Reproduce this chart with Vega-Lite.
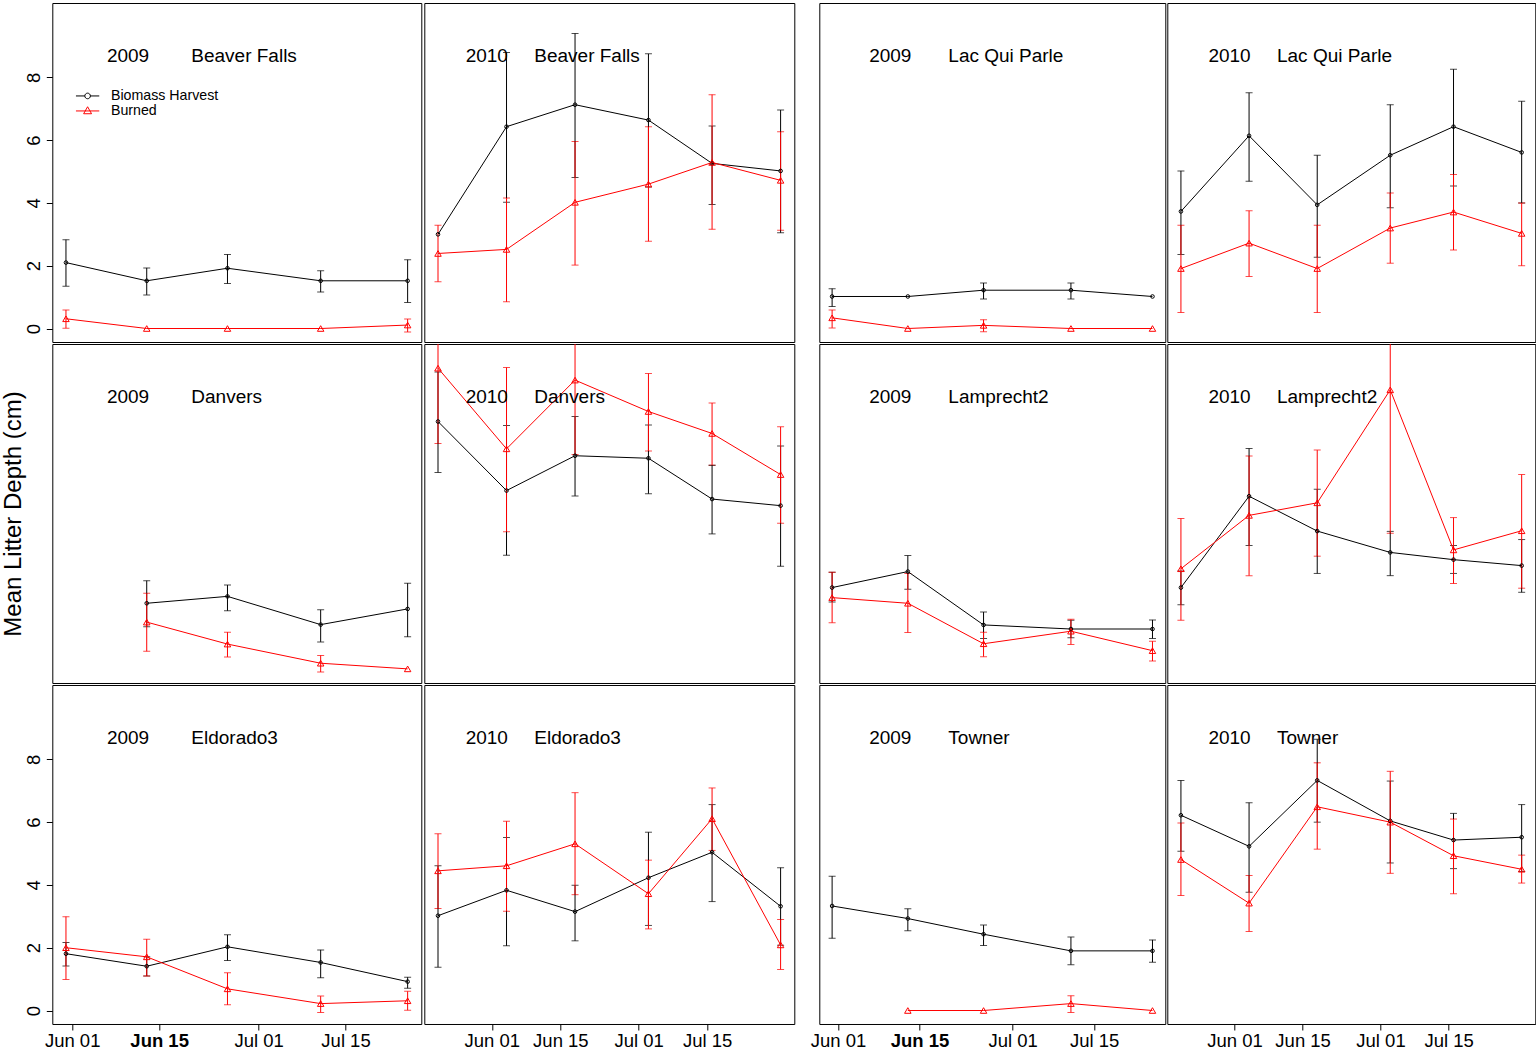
{
"$schema": "https://vega.github.io/schema/vega-lite/v6.json",
"background": "white",
"padding": {"left": 0.3, "top": 2, "right": 0, "bottom": 0},
"config": {
  "view": {"stroke": "#000000", "strokeWidth": 1},
  "font": "Liberation Sans",
  "axis": {"labelFont": "Liberation Sans", "titleFont": "Liberation Sans", "labelColor": "#000000", "titleColor": "#000000", "tickColor": "#000000", "tickWidth": 1},
  "title": {"font": "Liberation Sans", "fontSize": 19, "fontWeight": "normal", "color": "#000000", "anchor": "start", "frame": "group", "orient": "top", "baseline": "alphabetic", "offset": -62.7},
  "legend": {"labelFont": "Liberation Sans"}
},
"data": {"values": [
{"site":"Beaver Falls","year":2009,"trt":"Biomass Harvest","date":"2009-05-31","mean":2.10,"lo":1.35,"hi":2.83},
{"site":"Beaver Falls","year":2009,"trt":"Biomass Harvest","date":"2009-06-13","mean":1.52,"lo":1.07,"hi":1.93},
{"site":"Beaver Falls","year":2009,"trt":"Biomass Harvest","date":"2009-06-26","mean":1.92,"lo":1.43,"hi":2.36},
{"site":"Beaver Falls","year":2009,"trt":"Biomass Harvest","date":"2009-07-11","mean":1.52,"lo":1.16,"hi":1.84},
{"site":"Beaver Falls","year":2009,"trt":"Biomass Harvest","date":"2009-07-25","mean":1.52,"lo":0.83,"hi":2.19},
{"site":"Beaver Falls","year":2010,"trt":"Biomass Harvest","date":"2010-05-21","mean":3.00,"lo":null,"hi":null},
{"site":"Beaver Falls","year":2010,"trt":"Biomass Harvest","date":"2010-06-04","mean":6.43,"lo":4.02,"hi":8.79},
{"site":"Beaver Falls","year":2010,"trt":"Biomass Harvest","date":"2010-06-18","mean":7.13,"lo":4.81,"hi":9.40},
{"site":"Beaver Falls","year":2010,"trt":"Biomass Harvest","date":"2010-07-03","mean":6.64,"lo":4.51,"hi":8.75},
{"site":"Beaver Falls","year":2010,"trt":"Biomass Harvest","date":"2010-07-16","mean":5.26,"lo":3.95,"hi":6.45},
{"site":"Beaver Falls","year":2010,"trt":"Biomass Harvest","date":"2010-07-30","mean":5.02,"lo":3.05,"hi":6.96},
{"site":"Lac Qui Parle","year":2009,"trt":"Biomass Harvest","date":"2009-05-31","mean":1.02,"lo":0.70,"hi":1.27},
{"site":"Lac Qui Parle","year":2009,"trt":"Biomass Harvest","date":"2009-06-13","mean":1.02,"lo":null,"hi":null},
{"site":"Lac Qui Parle","year":2009,"trt":"Biomass Harvest","date":"2009-06-26","mean":1.22,"lo":0.94,"hi":1.45},
{"site":"Lac Qui Parle","year":2009,"trt":"Biomass Harvest","date":"2009-07-11","mean":1.22,"lo":0.94,"hi":1.45},
{"site":"Lac Qui Parle","year":2009,"trt":"Biomass Harvest","date":"2009-07-25","mean":1.02,"lo":null,"hi":null},
{"site":"Lac Qui Parle","year":2010,"trt":"Biomass Harvest","date":"2010-05-21","mean":3.73,"lo":2.36,"hi":5.02},
{"site":"Lac Qui Parle","year":2010,"trt":"Biomass Harvest","date":"2010-06-04","mean":6.14,"lo":4.69,"hi":7.51},
{"site":"Lac Qui Parle","year":2010,"trt":"Biomass Harvest","date":"2010-06-18","mean":3.94,"lo":2.27,"hi":5.52},
{"site":"Lac Qui Parle","year":2010,"trt":"Biomass Harvest","date":"2010-07-03","mean":5.52,"lo":3.85,"hi":7.13},
{"site":"Lac Qui Parle","year":2010,"trt":"Biomass Harvest","date":"2010-07-16","mean":6.43,"lo":4.54,"hi":8.26},
{"site":"Lac Qui Parle","year":2010,"trt":"Biomass Harvest","date":"2010-07-30","mean":5.61,"lo":4.00,"hi":7.24},
{"site":"Danvers","year":2009,"trt":"Biomass Harvest","date":"2009-06-13","mean":2.11,"lo":1.36,"hi":2.83},
{"site":"Danvers","year":2009,"trt":"Biomass Harvest","date":"2009-06-26","mean":2.33,"lo":1.87,"hi":2.69},
{"site":"Danvers","year":2009,"trt":"Biomass Harvest","date":"2009-07-11","mean":1.43,"lo":0.88,"hi":1.90},
{"site":"Danvers","year":2009,"trt":"Biomass Harvest","date":"2009-07-25","mean":1.93,"lo":1.04,"hi":2.75},
{"site":"Danvers","year":2010,"trt":"Biomass Harvest","date":"2010-05-21","mean":7.90,"lo":6.28,"hi":9.48},
{"site":"Danvers","year":2010,"trt":"Biomass Harvest","date":"2010-06-04","mean":5.70,"lo":3.64,"hi":7.77},
{"site":"Danvers","year":2010,"trt":"Biomass Harvest","date":"2010-06-18","mean":6.81,"lo":5.53,"hi":8.06},
{"site":"Danvers","year":2010,"trt":"Biomass Harvest","date":"2010-07-03","mean":6.73,"lo":5.60,"hi":7.79},
{"site":"Danvers","year":2010,"trt":"Biomass Harvest","date":"2010-07-16","mean":5.43,"lo":4.32,"hi":6.51},
{"site":"Danvers","year":2010,"trt":"Biomass Harvest","date":"2010-07-30","mean":5.22,"lo":3.29,"hi":7.12},
{"site":"Lamprecht2","year":2009,"trt":"Biomass Harvest","date":"2009-05-31","mean":2.61,"lo":2.15,"hi":3.10},
{"site":"Lamprecht2","year":2009,"trt":"Biomass Harvest","date":"2009-06-13","mean":3.12,"lo":2.56,"hi":3.63},
{"site":"Lamprecht2","year":2009,"trt":"Biomass Harvest","date":"2009-06-26","mean":1.42,"lo":0.99,"hi":1.83},
{"site":"Lamprecht2","year":2009,"trt":"Biomass Harvest","date":"2009-07-11","mean":1.29,"lo":1.01,"hi":1.57},
{"site":"Lamprecht2","year":2009,"trt":"Biomass Harvest","date":"2009-07-25","mean":1.29,"lo":0.99,"hi":1.58},
{"site":"Lamprecht2","year":2010,"trt":"Biomass Harvest","date":"2010-05-21","mean":2.61,"lo":2.06,"hi":3.14},
{"site":"Lamprecht2","year":2010,"trt":"Biomass Harvest","date":"2010-06-04","mean":5.52,"lo":3.95,"hi":7.04},
{"site":"Lamprecht2","year":2010,"trt":"Biomass Harvest","date":"2010-06-18","mean":4.41,"lo":3.06,"hi":5.74},
{"site":"Lamprecht2","year":2010,"trt":"Biomass Harvest","date":"2010-07-03","mean":3.73,"lo":2.99,"hi":4.40},
{"site":"Lamprecht2","year":2010,"trt":"Biomass Harvest","date":"2010-07-16","mean":3.50,"lo":3.06,"hi":3.95},
{"site":"Lamprecht2","year":2010,"trt":"Biomass Harvest","date":"2010-07-30","mean":3.31,"lo":2.46,"hi":4.14},
{"site":"Eldorado3","year":2009,"trt":"Biomass Harvest","date":"2009-05-31","mean":1.81,"lo":1.42,"hi":2.17},
{"site":"Eldorado3","year":2009,"trt":"Biomass Harvest","date":"2009-06-13","mean":1.41,"lo":1.10,"hi":1.71},
{"site":"Eldorado3","year":2009,"trt":"Biomass Harvest","date":"2009-06-26","mean":2.03,"lo":1.59,"hi":2.41},
{"site":"Eldorado3","year":2009,"trt":"Biomass Harvest","date":"2009-07-11","mean":1.53,"lo":1.04,"hi":1.93},
{"site":"Eldorado3","year":2009,"trt":"Biomass Harvest","date":"2009-07-25","mean":0.92,"lo":0.71,"hi":1.06},
{"site":"Eldorado3","year":2010,"trt":"Biomass Harvest","date":"2010-05-21","mean":3.02,"lo":1.38,"hi":4.61},
{"site":"Eldorado3","year":2010,"trt":"Biomass Harvest","date":"2010-06-04","mean":3.83,"lo":2.06,"hi":5.51},
{"site":"Eldorado3","year":2010,"trt":"Biomass Harvest","date":"2010-06-18","mean":3.15,"lo":2.22,"hi":3.99},
{"site":"Eldorado3","year":2010,"trt":"Biomass Harvest","date":"2010-07-03","mean":4.23,"lo":2.71,"hi":5.68},
{"site":"Eldorado3","year":2010,"trt":"Biomass Harvest","date":"2010-07-16","mean":5.04,"lo":3.47,"hi":6.56},
{"site":"Eldorado3","year":2010,"trt":"Biomass Harvest","date":"2010-07-30","mean":3.32,"lo":2.08,"hi":4.55},
{"site":"Towner","year":2009,"trt":"Biomass Harvest","date":"2009-05-31","mean":3.33,"lo":2.30,"hi":4.28},
{"site":"Towner","year":2009,"trt":"Biomass Harvest","date":"2009-06-13","mean":2.93,"lo":2.54,"hi":3.24},
{"site":"Towner","year":2009,"trt":"Biomass Harvest","date":"2009-06-26","mean":2.43,"lo":2.07,"hi":2.72},
{"site":"Towner","year":2009,"trt":"Biomass Harvest","date":"2009-07-11","mean":1.90,"lo":1.46,"hi":2.34},
{"site":"Towner","year":2009,"trt":"Biomass Harvest","date":"2009-07-25","mean":1.90,"lo":1.54,"hi":2.25},
{"site":"Towner","year":2010,"trt":"Biomass Harvest","date":"2010-05-21","mean":6.22,"lo":5.07,"hi":7.33},
{"site":"Towner","year":2010,"trt":"Biomass Harvest","date":"2010-06-04","mean":5.23,"lo":3.77,"hi":6.62},
{"site":"Towner","year":2010,"trt":"Biomass Harvest","date":"2010-06-18","mean":7.33,"lo":6.00,"hi":8.64},
{"site":"Towner","year":2010,"trt":"Biomass Harvest","date":"2010-07-03","mean":6.04,"lo":4.70,"hi":7.31},
{"site":"Towner","year":2010,"trt":"Biomass Harvest","date":"2010-07-16","mean":5.43,"lo":4.52,"hi":6.28},
{"site":"Towner","year":2010,"trt":"Biomass Harvest","date":"2010-07-30","mean":5.52,"lo":4.43,"hi":6.56},
{"site":"Beaver Falls","year":2009,"trt":"Burned","date":"2009-05-31","mean":0.31,"lo":0.01,"hi":0.59},
{"site":"Beaver Falls","year":2009,"trt":"Burned","date":"2009-06-13","mean":0.00,"lo":null,"hi":null},
{"site":"Beaver Falls","year":2009,"trt":"Burned","date":"2009-06-26","mean":0.00,"lo":null,"hi":null},
{"site":"Beaver Falls","year":2009,"trt":"Burned","date":"2009-07-11","mean":0.00,"lo":null,"hi":null},
{"site":"Beaver Falls","year":2009,"trt":"Burned","date":"2009-07-25","mean":0.11,"lo":-0.11,"hi":0.30},
{"site":"Beaver Falls","year":2010,"trt":"Burned","date":"2010-05-21","mean":2.39,"lo":1.49,"hi":3.29},
{"site":"Beaver Falls","year":2010,"trt":"Burned","date":"2010-06-04","mean":2.52,"lo":0.85,"hi":4.16},
{"site":"Beaver Falls","year":2010,"trt":"Burned","date":"2010-06-18","mean":4.02,"lo":2.02,"hi":5.96},
{"site":"Beaver Falls","year":2010,"trt":"Burned","date":"2010-07-03","mean":4.60,"lo":2.78,"hi":6.43},
{"site":"Beaver Falls","year":2010,"trt":"Burned","date":"2010-07-16","mean":5.29,"lo":3.16,"hi":7.45},
{"site":"Beaver Falls","year":2010,"trt":"Burned","date":"2010-07-30","mean":4.72,"lo":3.13,"hi":6.27},
{"site":"Lac Qui Parle","year":2009,"trt":"Burned","date":"2009-05-31","mean":0.34,"lo":0.02,"hi":0.59},
{"site":"Lac Qui Parle","year":2009,"trt":"Burned","date":"2009-06-13","mean":0.00,"lo":null,"hi":null},
{"site":"Lac Qui Parle","year":2009,"trt":"Burned","date":"2009-06-26","mean":0.10,"lo":-0.10,"hi":0.28},
{"site":"Lac Qui Parle","year":2009,"trt":"Burned","date":"2009-07-11","mean":0.00,"lo":null,"hi":null},
{"site":"Lac Qui Parle","year":2009,"trt":"Burned","date":"2009-07-25","mean":0.00,"lo":null,"hi":null},
{"site":"Lac Qui Parle","year":2010,"trt":"Burned","date":"2010-05-21","mean":1.91,"lo":0.51,"hi":3.29},
{"site":"Lac Qui Parle","year":2010,"trt":"Burned","date":"2010-06-04","mean":2.72,"lo":1.66,"hi":3.75},
{"site":"Lac Qui Parle","year":2010,"trt":"Burned","date":"2010-06-18","mean":1.91,"lo":0.51,"hi":3.29},
{"site":"Lac Qui Parle","year":2010,"trt":"Burned","date":"2010-07-03","mean":3.20,"lo":2.08,"hi":4.32},
{"site":"Lac Qui Parle","year":2010,"trt":"Burned","date":"2010-07-16","mean":3.71,"lo":2.50,"hi":4.91},
{"site":"Lac Qui Parle","year":2010,"trt":"Burned","date":"2010-07-30","mean":3.03,"lo":2.00,"hi":4.00},
{"site":"Danvers","year":2009,"trt":"Burned","date":"2009-06-13","mean":1.51,"lo":0.58,"hi":2.43},
{"site":"Danvers","year":2009,"trt":"Burned","date":"2009-06-26","mean":0.81,"lo":0.40,"hi":1.19},
{"site":"Danvers","year":2009,"trt":"Burned","date":"2009-07-11","mean":0.20,"lo":-0.08,"hi":0.45},
{"site":"Danvers","year":2009,"trt":"Burned","date":"2009-07-25","mean":0.02,"lo":null,"hi":null},
{"site":"Danvers","year":2010,"trt":"Burned","date":"2010-05-21","mean":9.60,"lo":7.20,"hi":12.0},
{"site":"Danvers","year":2010,"trt":"Burned","date":"2010-06-04","mean":7.03,"lo":4.39,"hi":9.62},
{"site":"Danvers","year":2010,"trt":"Burned","date":"2010-06-18","mean":9.22,"lo":6.85,"hi":11.6},
{"site":"Danvers","year":2010,"trt":"Burned","date":"2010-07-03","mean":8.22,"lo":6.96,"hi":9.43},
{"site":"Danvers","year":2010,"trt":"Burned","date":"2010-07-16","mean":7.52,"lo":6.51,"hi":8.49},
{"site":"Danvers","year":2010,"trt":"Burned","date":"2010-07-30","mean":6.21,"lo":4.66,"hi":7.73},
{"site":"Lamprecht2","year":2009,"trt":"Burned","date":"2009-05-31","mean":2.29,"lo":1.49,"hi":3.10},
{"site":"Lamprecht2","year":2009,"trt":"Burned","date":"2009-06-13","mean":2.11,"lo":1.18,"hi":3.06},
{"site":"Lamprecht2","year":2009,"trt":"Burned","date":"2009-06-26","mean":0.82,"lo":0.41,"hi":1.19},
{"site":"Lamprecht2","year":2009,"trt":"Burned","date":"2009-07-11","mean":1.22,"lo":0.80,"hi":1.60},
{"site":"Lamprecht2","year":2009,"trt":"Burned","date":"2009-07-25","mean":0.60,"lo":0.27,"hi":0.90},
{"site":"Lamprecht2","year":2010,"trt":"Burned","date":"2010-05-21","mean":3.21,"lo":1.57,"hi":4.81},
{"site":"Lamprecht2","year":2010,"trt":"Burned","date":"2010-06-04","mean":4.91,"lo":2.99,"hi":6.80},
{"site":"Lamprecht2","year":2010,"trt":"Burned","date":"2010-06-18","mean":5.31,"lo":3.61,"hi":6.99},
{"site":"Lamprecht2","year":2010,"trt":"Burned","date":"2010-07-03","mean":8.91,"lo":4.34,"hi":13.5},
{"site":"Lamprecht2","year":2010,"trt":"Burned","date":"2010-07-16","mean":3.81,"lo":2.74,"hi":4.84},
{"site":"Lamprecht2","year":2010,"trt":"Burned","date":"2010-07-30","mean":4.42,"lo":2.59,"hi":6.21},
{"site":"Eldorado3","year":2009,"trt":"Burned","date":"2009-05-31","mean":2.00,"lo":0.99,"hi":2.99},
{"site":"Eldorado3","year":2009,"trt":"Burned","date":"2009-06-13","mean":1.71,"lo":1.10,"hi":2.27},
{"site":"Eldorado3","year":2009,"trt":"Burned","date":"2009-06-26","mean":0.69,"lo":0.18,"hi":1.20},
{"site":"Eldorado3","year":2009,"trt":"Burned","date":"2009-07-11","mean":0.22,"lo":-0.06,"hi":0.46},
{"site":"Eldorado3","year":2009,"trt":"Burned","date":"2009-07-25","mean":0.31,"lo":0.01,"hi":0.61},
{"site":"Eldorado3","year":2010,"trt":"Burned","date":"2010-05-21","mean":4.45,"lo":3.25,"hi":5.63},
{"site":"Eldorado3","year":2010,"trt":"Burned","date":"2010-06-04","mean":4.61,"lo":3.16,"hi":6.03},
{"site":"Eldorado3","year":2010,"trt":"Burned","date":"2010-06-18","mean":5.31,"lo":3.69,"hi":6.94},
{"site":"Eldorado3","year":2010,"trt":"Burned","date":"2010-07-03","mean":3.72,"lo":2.60,"hi":4.79},
{"site":"Eldorado3","year":2010,"trt":"Burned","date":"2010-07-16","mean":6.11,"lo":5.10,"hi":7.09},
{"site":"Eldorado3","year":2010,"trt":"Burned","date":"2010-07-30","mean":2.09,"lo":1.31,"hi":2.90},
{"site":"Towner","year":2009,"trt":"Burned","date":"2009-06-13","mean":0.00,"lo":null,"hi":null},
{"site":"Towner","year":2009,"trt":"Burned","date":"2009-06-26","mean":0.00,"lo":null,"hi":null},
{"site":"Towner","year":2009,"trt":"Burned","date":"2009-07-11","mean":0.22,"lo":-0.06,"hi":0.47},
{"site":"Towner","year":2009,"trt":"Burned","date":"2009-07-25","mean":0.00,"lo":null,"hi":null},
{"site":"Towner","year":2010,"trt":"Burned","date":"2010-05-21","mean":4.81,"lo":3.66,"hi":5.97},
{"site":"Towner","year":2010,"trt":"Burned","date":"2010-06-04","mean":3.42,"lo":2.52,"hi":4.30},
{"site":"Towner","year":2010,"trt":"Burned","date":"2010-06-18","mean":6.49,"lo":5.14,"hi":7.89},
{"site":"Towner","year":2010,"trt":"Burned","date":"2010-07-03","mean":6.00,"lo":4.37,"hi":7.62},
{"site":"Towner","year":2010,"trt":"Burned","date":"2010-07-16","mean":4.93,"lo":3.72,"hi":6.10},
{"site":"Towner","year":2010,"trt":"Burned","date":"2010-07-30","mean":4.50,"lo":4.06,"hi":4.95}
]},
"spacing": 14,
"resolve": {"scale": {"x": "independent", "y": "independent", "color": "independent", "shape": "independent"}},
"hconcat": [
{
"columns": 2,
"bounds": "flush",
"spacing": {"row": 2, "column": 3},
"resolve": {"scale": {"x": "independent", "y": "independent", "color": "independent", "shape": "independent"}},
"concat": [
{"width": 369, "height": 339,
 "title": {"text": "2009\u00a0\u00a0\u00a0\u00a0\u00a0\u00a0\u00a0\u00a0Beaver Falls", "dx": 54.6},
 "transform": [{"filter": "datum.site === 'Beaver Falls' && datum.year === 2009"}],
 "resolve": {"scale": {"color": "independent", "shape": "independent"}},
 "encoding": {
  "x": {"field": "date", "type": "temporal", "scale": {"type": "utc", "domain": [{"year":2009,"month":5,"date":28,"hours":19,"minutes":12,"utc":true},{"year":2009,"month":7,"date":27,"hours":4,"minutes":48,"utc":true}]}, "axis": null},
  "color": {"field": "trt", "type": "nominal", "scale": {"domain": ["Biomass Harvest","Burned"], "range": ["#000000","#ff0000"]}, "legend": null}
 },
 "layer": [
  {"mark": {"type": "errorbar", "ticks": true, "size": 7, "thickness": 1, "clip": true},
   "encoding": {"y": {"field": "lo", "type": "quantitative", "scale": {"domain": [-0.43, 10.37], "nice": false, "zero": false},
      "axis": {"values": [0,2,4,6,8], "title": null, "grid": false, "domain": false, "tickSize": 6, "labelAngle": -90, "labelAlign": "center", "labelBaseline": "middle", "labelPadding": 13, "labelFontSize": 18.5}},
    "y2": {"field": "hi"}}},
  {"mark": {"type": "line", "strokeWidth": 1},
   "encoding": {"y": {"field": "mean", "type": "quantitative", "scale": {"domain": [-0.43, 10.37], "nice": false, "zero": false}}}},
  {"mark": {"type": "point", "filled": false, "strokeWidth": 1, "opacity": 1},
   "encoding": {"y": {"field": "mean", "type": "quantitative", "scale": {"domain": [-0.43, 10.37], "nice": false, "zero": false}},
    "shape": {"field": "trt", "type": "nominal", "scale": {"domain": ["Biomass Harvest","Burned"], "range": ["circle","triangle-up"]}, "legend": null},
    "size": {"condition": {"test": "datum.trt === 'Burned'", "value": 42}, "value": 13}}},
  {"mark": {"type": "point", "filled": false, "strokeWidth": 1, "opacity": 0, "size": 543},
   "encoding": {"y": {"field": "mean", "type": "quantitative", "scale": {"domain": [-0.43, 10.37], "nice": false, "zero": false}},
    "color": {"field": "trt", "type": "nominal", "scale": {"domain": ["Biomass Harvest","Burned"], "range": ["#000000","#ff0000"]},
      "legend": {"title": null, "orient": "none", "legendX": 22.8, "legendY": 85.6, "padding": 0, "rowPadding": 0, "clipHeight": 14.7, "symbolSize": 543, "symbolStrokeWidth": 1, "symbolOpacity": 1, "symbolFillColor": "transparent", "labelOffset": 10.9, "labelFontSize": 14.2, "labelColor": "#000000"}},
    "shape": {"field": "trt", "type": "nominal", "scale": {"domain": ["Biomass Harvest","Burned"], "range": ["M-1,0H-0.24M0.24,0H1M0.24,0A0.24,0.24,0,1,1,-0.24,0A0.24,0.24,0,1,1,0.24,0Z", "M-1,0H1M0,-0.36L0.34,0.24L-0.34,0.24Z"]},
      "legend": {"title": null, "orient": "none", "legendX": 22.8, "legendY": 85.6, "padding": 0, "rowPadding": 0, "clipHeight": 14.7, "symbolSize": 543, "symbolStrokeWidth": 1, "symbolOpacity": 1, "symbolFillColor": "transparent", "labelOffset": 10.9, "labelFontSize": 14.2, "labelColor": "#000000"}}}}
 ]},
{"width": 370, "height": 339,
 "title": {"text": "2010\u00a0\u00a0\u00a0\u00a0\u00a0Beaver Falls", "dx": 41.4},
 "transform": [{"filter": "datum.site === 'Beaver Falls' && datum.year === 2010"}],
 "encoding": {
  "x": {"field": "date", "type": "temporal", "scale": {"type": "utc", "domain": [{"year":2010,"month":5,"date":18,"hours":4,"minutes":48,"utc":true},{"year":2010,"month":8,"date":1,"hours":19,"minutes":12,"utc":true}]}, "axis": null},
  "color": {"field": "trt", "type": "nominal", "scale": {"domain": ["Biomass Harvest","Burned"], "range": ["#000000","#ff0000"]}, "legend": null}
 },
 "layer": [
  {"mark": {"type": "errorbar", "ticks": true, "size": 7, "thickness": 1, "clip": true},
   "encoding": {"y": {"field": "lo", "type": "quantitative", "scale": {"domain": [-0.43, 10.37], "nice": false, "zero": false}, "axis": null}, "y2": {"field": "hi"}}},
  {"mark": {"type": "line", "strokeWidth": 1},
   "encoding": {"y": {"field": "mean", "type": "quantitative", "scale": {"domain": [-0.43, 10.37], "nice": false, "zero": false}}}},
  {"mark": {"type": "point", "filled": false, "strokeWidth": 1, "opacity": 1},
   "encoding": {"y": {"field": "mean", "type": "quantitative", "scale": {"domain": [-0.43, 10.37], "nice": false, "zero": false}},
    "shape": {"field": "trt", "type": "nominal", "scale": {"domain": ["Biomass Harvest","Burned"], "range": ["circle","triangle-up"]}, "legend": null},
    "size": {"condition": {"test": "datum.trt === 'Burned'", "value": 42}, "value": 13}}}
 ]},
{"width": 369, "height": 339,
 "title": {"text": "2009\u00a0\u00a0\u00a0\u00a0\u00a0\u00a0\u00a0\u00a0Danvers", "dx": 54.6},
 "transform": [{"filter": "datum.site === 'Danvers' && datum.year === 2009"}],
 "encoding": {
  "x": {"field": "date", "type": "temporal", "scale": {"type": "utc", "domain": [{"year":2009,"month":5,"date":28,"hours":19,"minutes":12,"utc":true},{"year":2009,"month":7,"date":27,"hours":4,"minutes":48,"utc":true}]}, "axis": null},
  "color": {"field": "trt", "type": "nominal", "scale": {"domain": ["Biomass Harvest","Burned"], "range": ["#000000","#ff0000"]}, "legend": null}
 },
 "layer": [
  {"mark": {"type": "errorbar", "ticks": true, "size": 7, "thickness": 1, "clip": true},
   "encoding": {"y": {"field": "lo", "type": "quantitative", "scale": {"domain": [-0.43, 10.37], "nice": false, "zero": false},
      "axis": {"title": "Mean Litter Depth (cm)", "titleFontSize": 24, "titleFontWeight": "normal", "titlePadding": 27, "labels": false, "ticks": false, "domain": false, "grid": false}},
    "y2": {"field": "hi"}}},
  {"mark": {"type": "line", "strokeWidth": 1},
   "encoding": {"y": {"field": "mean", "type": "quantitative", "scale": {"domain": [-0.43, 10.37], "nice": false, "zero": false}}}},
  {"mark": {"type": "point", "filled": false, "strokeWidth": 1, "opacity": 1},
   "encoding": {"y": {"field": "mean", "type": "quantitative", "scale": {"domain": [-0.43, 10.37], "nice": false, "zero": false}},
    "shape": {"field": "trt", "type": "nominal", "scale": {"domain": ["Biomass Harvest","Burned"], "range": ["circle","triangle-up"]}, "legend": null},
    "size": {"condition": {"test": "datum.trt === 'Burned'", "value": 42}, "value": 13}}}
 ]},
{"width": 370, "height": 339,
 "title": {"text": "2010\u00a0\u00a0\u00a0\u00a0\u00a0Danvers", "dx": 41.4},
 "transform": [{"filter": "datum.site === 'Danvers' && datum.year === 2010"}],
 "encoding": {
  "x": {"field": "date", "type": "temporal", "scale": {"type": "utc", "domain": [{"year":2010,"month":5,"date":18,"hours":4,"minutes":48,"utc":true},{"year":2010,"month":8,"date":1,"hours":19,"minutes":12,"utc":true}]}, "axis": null},
  "color": {"field": "trt", "type": "nominal", "scale": {"domain": ["Biomass Harvest","Burned"], "range": ["#000000","#ff0000"]}, "legend": null}
 },
 "layer": [
  {"mark": {"type": "errorbar", "ticks": true, "size": 7, "thickness": 1, "clip": true},
   "encoding": {"y": {"field": "lo", "type": "quantitative", "scale": {"domain": [-0.43, 10.37], "nice": false, "zero": false}, "axis": null}, "y2": {"field": "hi"}}},
  {"mark": {"type": "line", "strokeWidth": 1},
   "encoding": {"y": {"field": "mean", "type": "quantitative", "scale": {"domain": [-0.43, 10.37], "nice": false, "zero": false}}}},
  {"mark": {"type": "point", "filled": false, "strokeWidth": 1, "opacity": 1},
   "encoding": {"y": {"field": "mean", "type": "quantitative", "scale": {"domain": [-0.43, 10.37], "nice": false, "zero": false}},
    "shape": {"field": "trt", "type": "nominal", "scale": {"domain": ["Biomass Harvest","Burned"], "range": ["circle","triangle-up"]}, "legend": null},
    "size": {"condition": {"test": "datum.trt === 'Burned'", "value": 42}, "value": 13}}}
 ]},
{"width": 369, "height": 339,
 "title": {"text": "2009\u00a0\u00a0\u00a0\u00a0\u00a0\u00a0\u00a0\u00a0Eldorado3", "dx": 54.6},
 "transform": [{"filter": "datum.site === 'Eldorado3' && datum.year === 2009"}],
 "encoding": {
  "x": {"field": "date", "type": "temporal", "scale": {"type": "utc", "domain": [{"year":2009,"month":5,"date":28,"hours":19,"minutes":12,"utc":true},{"year":2009,"month":7,"date":27,"hours":4,"minutes":48,"utc":true}]},
    "axis": {"values": [1243814400000, 1245024000000, 1246406400000, 1247616000000], "format": "%b %d", "title": null, "grid": false, "domain": false, "tickSize": 6, "labelFontSize": 18.5, "labelPadding": 2, "labelFlush": false, "labelOverlap": false, "labelFontWeight": {"condition": {"test": "datum.label === 'Jun 15'", "value": "bold"}, "value": "normal"}}},
  "color": {"field": "trt", "type": "nominal", "scale": {"domain": ["Biomass Harvest","Burned"], "range": ["#000000","#ff0000"]}, "legend": null}
 },
 "layer": [
  {"mark": {"type": "errorbar", "ticks": true, "size": 7, "thickness": 1, "clip": true},
   "encoding": {"y": {"field": "lo", "type": "quantitative", "scale": {"domain": [-0.43, 10.37], "nice": false, "zero": false},
      "axis": {"values": [0,2,4,6,8], "title": null, "grid": false, "domain": false, "tickSize": 6, "labelAngle": -90, "labelAlign": "center", "labelBaseline": "middle", "labelPadding": 13, "labelFontSize": 18.5}},
    "y2": {"field": "hi"}}},
  {"mark": {"type": "line", "strokeWidth": 1},
   "encoding": {"y": {"field": "mean", "type": "quantitative", "scale": {"domain": [-0.43, 10.37], "nice": false, "zero": false}}}},
  {"mark": {"type": "point", "filled": false, "strokeWidth": 1, "opacity": 1},
   "encoding": {"y": {"field": "mean", "type": "quantitative", "scale": {"domain": [-0.43, 10.37], "nice": false, "zero": false}},
    "shape": {"field": "trt", "type": "nominal", "scale": {"domain": ["Biomass Harvest","Burned"], "range": ["circle","triangle-up"]}, "legend": null},
    "size": {"condition": {"test": "datum.trt === 'Burned'", "value": 42}, "value": 13}}}
 ]},
{"width": 370, "height": 339,
 "title": {"text": "2010\u00a0\u00a0\u00a0\u00a0\u00a0Eldorado3", "dx": 41.4},
 "transform": [{"filter": "datum.site === 'Eldorado3' && datum.year === 2010"}],
 "encoding": {
  "x": {"field": "date", "type": "temporal", "scale": {"type": "utc", "domain": [{"year":2010,"month":5,"date":18,"hours":4,"minutes":48,"utc":true},{"year":2010,"month":8,"date":1,"hours":19,"minutes":12,"utc":true}]},
    "axis": {"values": [1275350400000, 1276560000000, 1277942400000, 1279152000000], "format": "%b %d", "title": null, "grid": false, "domain": false, "tickSize": 6, "labelFontSize": 18.5, "labelPadding": 2, "labelFlush": false, "labelOverlap": false}},
  "color": {"field": "trt", "type": "nominal", "scale": {"domain": ["Biomass Harvest","Burned"], "range": ["#000000","#ff0000"]}, "legend": null}
 },
 "layer": [
  {"mark": {"type": "errorbar", "ticks": true, "size": 7, "thickness": 1, "clip": true},
   "encoding": {"y": {"field": "lo", "type": "quantitative", "scale": {"domain": [-0.43, 10.37], "nice": false, "zero": false}, "axis": null}, "y2": {"field": "hi"}}},
  {"mark": {"type": "line", "strokeWidth": 1},
   "encoding": {"y": {"field": "mean", "type": "quantitative", "scale": {"domain": [-0.43, 10.37], "nice": false, "zero": false}}}},
  {"mark": {"type": "point", "filled": false, "strokeWidth": 1, "opacity": 1},
   "encoding": {"y": {"field": "mean", "type": "quantitative", "scale": {"domain": [-0.43, 10.37], "nice": false, "zero": false}},
    "shape": {"field": "trt", "type": "nominal", "scale": {"domain": ["Biomass Harvest","Burned"], "range": ["circle","triangle-up"]}, "legend": null},
    "size": {"condition": {"test": "datum.trt === 'Burned'", "value": 42}, "value": 13}}}
 ]}
]},
{
"columns": 2,
"bounds": "flush",
"spacing": {"row": 2, "column": 2},
"resolve": {"scale": {"x": "independent", "y": "independent", "color": "independent", "shape": "independent"}},
"concat": [
{"width": 346, "height": 339,
 "title": {"text": "2009\u00a0\u00a0\u00a0\u00a0\u00a0\u00a0\u00a0Lac Qui Parle", "dx": 49.9},
 "transform": [{"filter": "datum.site === 'Lac Qui Parle' && datum.year === 2009"}],
 "encoding": {
  "x": {"field": "date", "type": "temporal", "scale": {"type": "utc", "domain": [{"year":2009,"month":5,"date":28,"hours":19,"minutes":12,"utc":true},{"year":2009,"month":7,"date":27,"hours":4,"minutes":48,"utc":true}]}, "axis": null},
  "color": {"field": "trt", "type": "nominal", "scale": {"domain": ["Biomass Harvest","Burned"], "range": ["#000000","#ff0000"]}, "legend": null}
 },
 "layer": [
  {"mark": {"type": "errorbar", "ticks": true, "size": 7, "thickness": 1, "clip": true},
   "encoding": {"y": {"field": "lo", "type": "quantitative", "scale": {"domain": [-0.43, 10.37], "nice": false, "zero": false}, "axis": null}, "y2": {"field": "hi"}}},
  {"mark": {"type": "line", "strokeWidth": 1},
   "encoding": {"y": {"field": "mean", "type": "quantitative", "scale": {"domain": [-0.43, 10.37], "nice": false, "zero": false}}}},
  {"mark": {"type": "point", "filled": false, "strokeWidth": 1, "opacity": 1},
   "encoding": {"y": {"field": "mean", "type": "quantitative", "scale": {"domain": [-0.43, 10.37], "nice": false, "zero": false}},
    "shape": {"field": "trt", "type": "nominal", "scale": {"domain": ["Biomass Harvest","Burned"], "range": ["circle","triangle-up"]}, "legend": null},
    "size": {"condition": {"test": "datum.trt === 'Burned'", "value": 42}, "value": 13}}}
 ]},
{"width": 368, "height": 339,
 "title": {"text": "2010\u00a0\u00a0\u00a0\u00a0\u00a0Lac Qui Parle", "dx": 41.1},
 "transform": [{"filter": "datum.site === 'Lac Qui Parle' && datum.year === 2010"}],
 "encoding": {
  "x": {"field": "date", "type": "temporal", "scale": {"type": "utc", "domain": [{"year":2010,"month":5,"date":18,"hours":4,"minutes":48,"utc":true},{"year":2010,"month":8,"date":1,"hours":19,"minutes":12,"utc":true}]}, "axis": null},
  "color": {"field": "trt", "type": "nominal", "scale": {"domain": ["Biomass Harvest","Burned"], "range": ["#000000","#ff0000"]}, "legend": null}
 },
 "layer": [
  {"mark": {"type": "errorbar", "ticks": true, "size": 7, "thickness": 1, "clip": true},
   "encoding": {"y": {"field": "lo", "type": "quantitative", "scale": {"domain": [-0.43, 10.37], "nice": false, "zero": false}, "axis": null}, "y2": {"field": "hi"}}},
  {"mark": {"type": "line", "strokeWidth": 1},
   "encoding": {"y": {"field": "mean", "type": "quantitative", "scale": {"domain": [-0.43, 10.37], "nice": false, "zero": false}}}},
  {"mark": {"type": "point", "filled": false, "strokeWidth": 1, "opacity": 1},
   "encoding": {"y": {"field": "mean", "type": "quantitative", "scale": {"domain": [-0.43, 10.37], "nice": false, "zero": false}},
    "shape": {"field": "trt", "type": "nominal", "scale": {"domain": ["Biomass Harvest","Burned"], "range": ["circle","triangle-up"]}, "legend": null},
    "size": {"condition": {"test": "datum.trt === 'Burned'", "value": 42}, "value": 13}}}
 ]},
{"width": 346, "height": 339,
 "title": {"text": "2009\u00a0\u00a0\u00a0\u00a0\u00a0\u00a0\u00a0Lamprecht2", "dx": 49.9},
 "transform": [{"filter": "datum.site === 'Lamprecht2' && datum.year === 2009"}],
 "encoding": {
  "x": {"field": "date", "type": "temporal", "scale": {"type": "utc", "domain": [{"year":2009,"month":5,"date":28,"hours":19,"minutes":12,"utc":true},{"year":2009,"month":7,"date":27,"hours":4,"minutes":48,"utc":true}]}, "axis": null},
  "color": {"field": "trt", "type": "nominal", "scale": {"domain": ["Biomass Harvest","Burned"], "range": ["#000000","#ff0000"]}, "legend": null}
 },
 "layer": [
  {"mark": {"type": "errorbar", "ticks": true, "size": 7, "thickness": 1, "clip": true},
   "encoding": {"y": {"field": "lo", "type": "quantitative", "scale": {"domain": [-0.43, 10.37], "nice": false, "zero": false}, "axis": null}, "y2": {"field": "hi"}}},
  {"mark": {"type": "line", "strokeWidth": 1},
   "encoding": {"y": {"field": "mean", "type": "quantitative", "scale": {"domain": [-0.43, 10.37], "nice": false, "zero": false}}}},
  {"mark": {"type": "point", "filled": false, "strokeWidth": 1, "opacity": 1},
   "encoding": {"y": {"field": "mean", "type": "quantitative", "scale": {"domain": [-0.43, 10.37], "nice": false, "zero": false}},
    "shape": {"field": "trt", "type": "nominal", "scale": {"domain": ["Biomass Harvest","Burned"], "range": ["circle","triangle-up"]}, "legend": null},
    "size": {"condition": {"test": "datum.trt === 'Burned'", "value": 42}, "value": 13}}}
 ]},
{"width": 368, "height": 339,
 "title": {"text": "2010\u00a0\u00a0\u00a0\u00a0\u00a0Lamprecht2", "dx": 41.1},
 "transform": [{"filter": "datum.site === 'Lamprecht2' && datum.year === 2010"}],
 "encoding": {
  "x": {"field": "date", "type": "temporal", "scale": {"type": "utc", "domain": [{"year":2010,"month":5,"date":18,"hours":4,"minutes":48,"utc":true},{"year":2010,"month":8,"date":1,"hours":19,"minutes":12,"utc":true}]}, "axis": null},
  "color": {"field": "trt", "type": "nominal", "scale": {"domain": ["Biomass Harvest","Burned"], "range": ["#000000","#ff0000"]}, "legend": null}
 },
 "layer": [
  {"mark": {"type": "errorbar", "ticks": true, "size": 7, "thickness": 1, "clip": true},
   "encoding": {"y": {"field": "lo", "type": "quantitative", "scale": {"domain": [-0.43, 10.37], "nice": false, "zero": false}, "axis": null}, "y2": {"field": "hi"}}},
  {"mark": {"type": "line", "strokeWidth": 1},
   "encoding": {"y": {"field": "mean", "type": "quantitative", "scale": {"domain": [-0.43, 10.37], "nice": false, "zero": false}}}},
  {"mark": {"type": "point", "filled": false, "strokeWidth": 1, "opacity": 1},
   "encoding": {"y": {"field": "mean", "type": "quantitative", "scale": {"domain": [-0.43, 10.37], "nice": false, "zero": false}},
    "shape": {"field": "trt", "type": "nominal", "scale": {"domain": ["Biomass Harvest","Burned"], "range": ["circle","triangle-up"]}, "legend": null},
    "size": {"condition": {"test": "datum.trt === 'Burned'", "value": 42}, "value": 13}}}
 ]},
{"width": 346, "height": 339,
 "title": {"text": "2009\u00a0\u00a0\u00a0\u00a0\u00a0\u00a0\u00a0Towner", "dx": 49.9},
 "transform": [{"filter": "datum.site === 'Towner' && datum.year === 2009"}],
 "encoding": {
  "x": {"field": "date", "type": "temporal", "scale": {"type": "utc", "domain": [{"year":2009,"month":5,"date":28,"hours":19,"minutes":12,"utc":true},{"year":2009,"month":7,"date":27,"hours":4,"minutes":48,"utc":true}]},
    "axis": {"values": [1243814400000, 1245024000000, 1246406400000, 1247616000000], "format": "%b %d", "title": null, "grid": false, "domain": false, "tickSize": 6, "labelFontSize": 18.5, "labelPadding": 2, "labelFlush": false, "labelOverlap": false, "labelFontWeight": {"condition": {"test": "datum.label === 'Jun 15'", "value": "bold"}, "value": "normal"}}},
  "color": {"field": "trt", "type": "nominal", "scale": {"domain": ["Biomass Harvest","Burned"], "range": ["#000000","#ff0000"]}, "legend": null}
 },
 "layer": [
  {"mark": {"type": "errorbar", "ticks": true, "size": 7, "thickness": 1, "clip": true},
   "encoding": {"y": {"field": "lo", "type": "quantitative", "scale": {"domain": [-0.43, 10.37], "nice": false, "zero": false}, "axis": null}, "y2": {"field": "hi"}}},
  {"mark": {"type": "line", "strokeWidth": 1},
   "encoding": {"y": {"field": "mean", "type": "quantitative", "scale": {"domain": [-0.43, 10.37], "nice": false, "zero": false}}}},
  {"mark": {"type": "point", "filled": false, "strokeWidth": 1, "opacity": 1},
   "encoding": {"y": {"field": "mean", "type": "quantitative", "scale": {"domain": [-0.43, 10.37], "nice": false, "zero": false}},
    "shape": {"field": "trt", "type": "nominal", "scale": {"domain": ["Biomass Harvest","Burned"], "range": ["circle","triangle-up"]}, "legend": null},
    "size": {"condition": {"test": "datum.trt === 'Burned'", "value": 42}, "value": 13}}}
 ]},
{"width": 368, "height": 339,
 "title": {"text": "2010\u00a0\u00a0\u00a0\u00a0\u00a0Towner", "dx": 41.1},
 "transform": [{"filter": "datum.site === 'Towner' && datum.year === 2010"}],
 "encoding": {
  "x": {"field": "date", "type": "temporal", "scale": {"type": "utc", "domain": [{"year":2010,"month":5,"date":18,"hours":4,"minutes":48,"utc":true},{"year":2010,"month":8,"date":1,"hours":19,"minutes":12,"utc":true}]},
    "axis": {"values": [1275350400000, 1276560000000, 1277942400000, 1279152000000], "format": "%b %d", "title": null, "grid": false, "domain": false, "tickSize": 6, "labelFontSize": 18.5, "labelPadding": 2, "labelFlush": false, "labelOverlap": false}},
  "color": {"field": "trt", "type": "nominal", "scale": {"domain": ["Biomass Harvest","Burned"], "range": ["#000000","#ff0000"]}, "legend": null}
 },
 "layer": [
  {"mark": {"type": "errorbar", "ticks": true, "size": 7, "thickness": 1, "clip": true},
   "encoding": {"y": {"field": "lo", "type": "quantitative", "scale": {"domain": [-0.43, 10.37], "nice": false, "zero": false}, "axis": null}, "y2": {"field": "hi"}}},
  {"mark": {"type": "line", "strokeWidth": 1},
   "encoding": {"y": {"field": "mean", "type": "quantitative", "scale": {"domain": [-0.43, 10.37], "nice": false, "zero": false}}}},
  {"mark": {"type": "point", "filled": false, "strokeWidth": 1, "opacity": 1},
   "encoding": {"y": {"field": "mean", "type": "quantitative", "scale": {"domain": [-0.43, 10.37], "nice": false, "zero": false}},
    "shape": {"field": "trt", "type": "nominal", "scale": {"domain": ["Biomass Harvest","Burned"], "range": ["circle","triangle-up"]}, "legend": null},
    "size": {"condition": {"test": "datum.trt === 'Burned'", "value": 42}, "value": 13}}}
 ]}
]}
]
}
